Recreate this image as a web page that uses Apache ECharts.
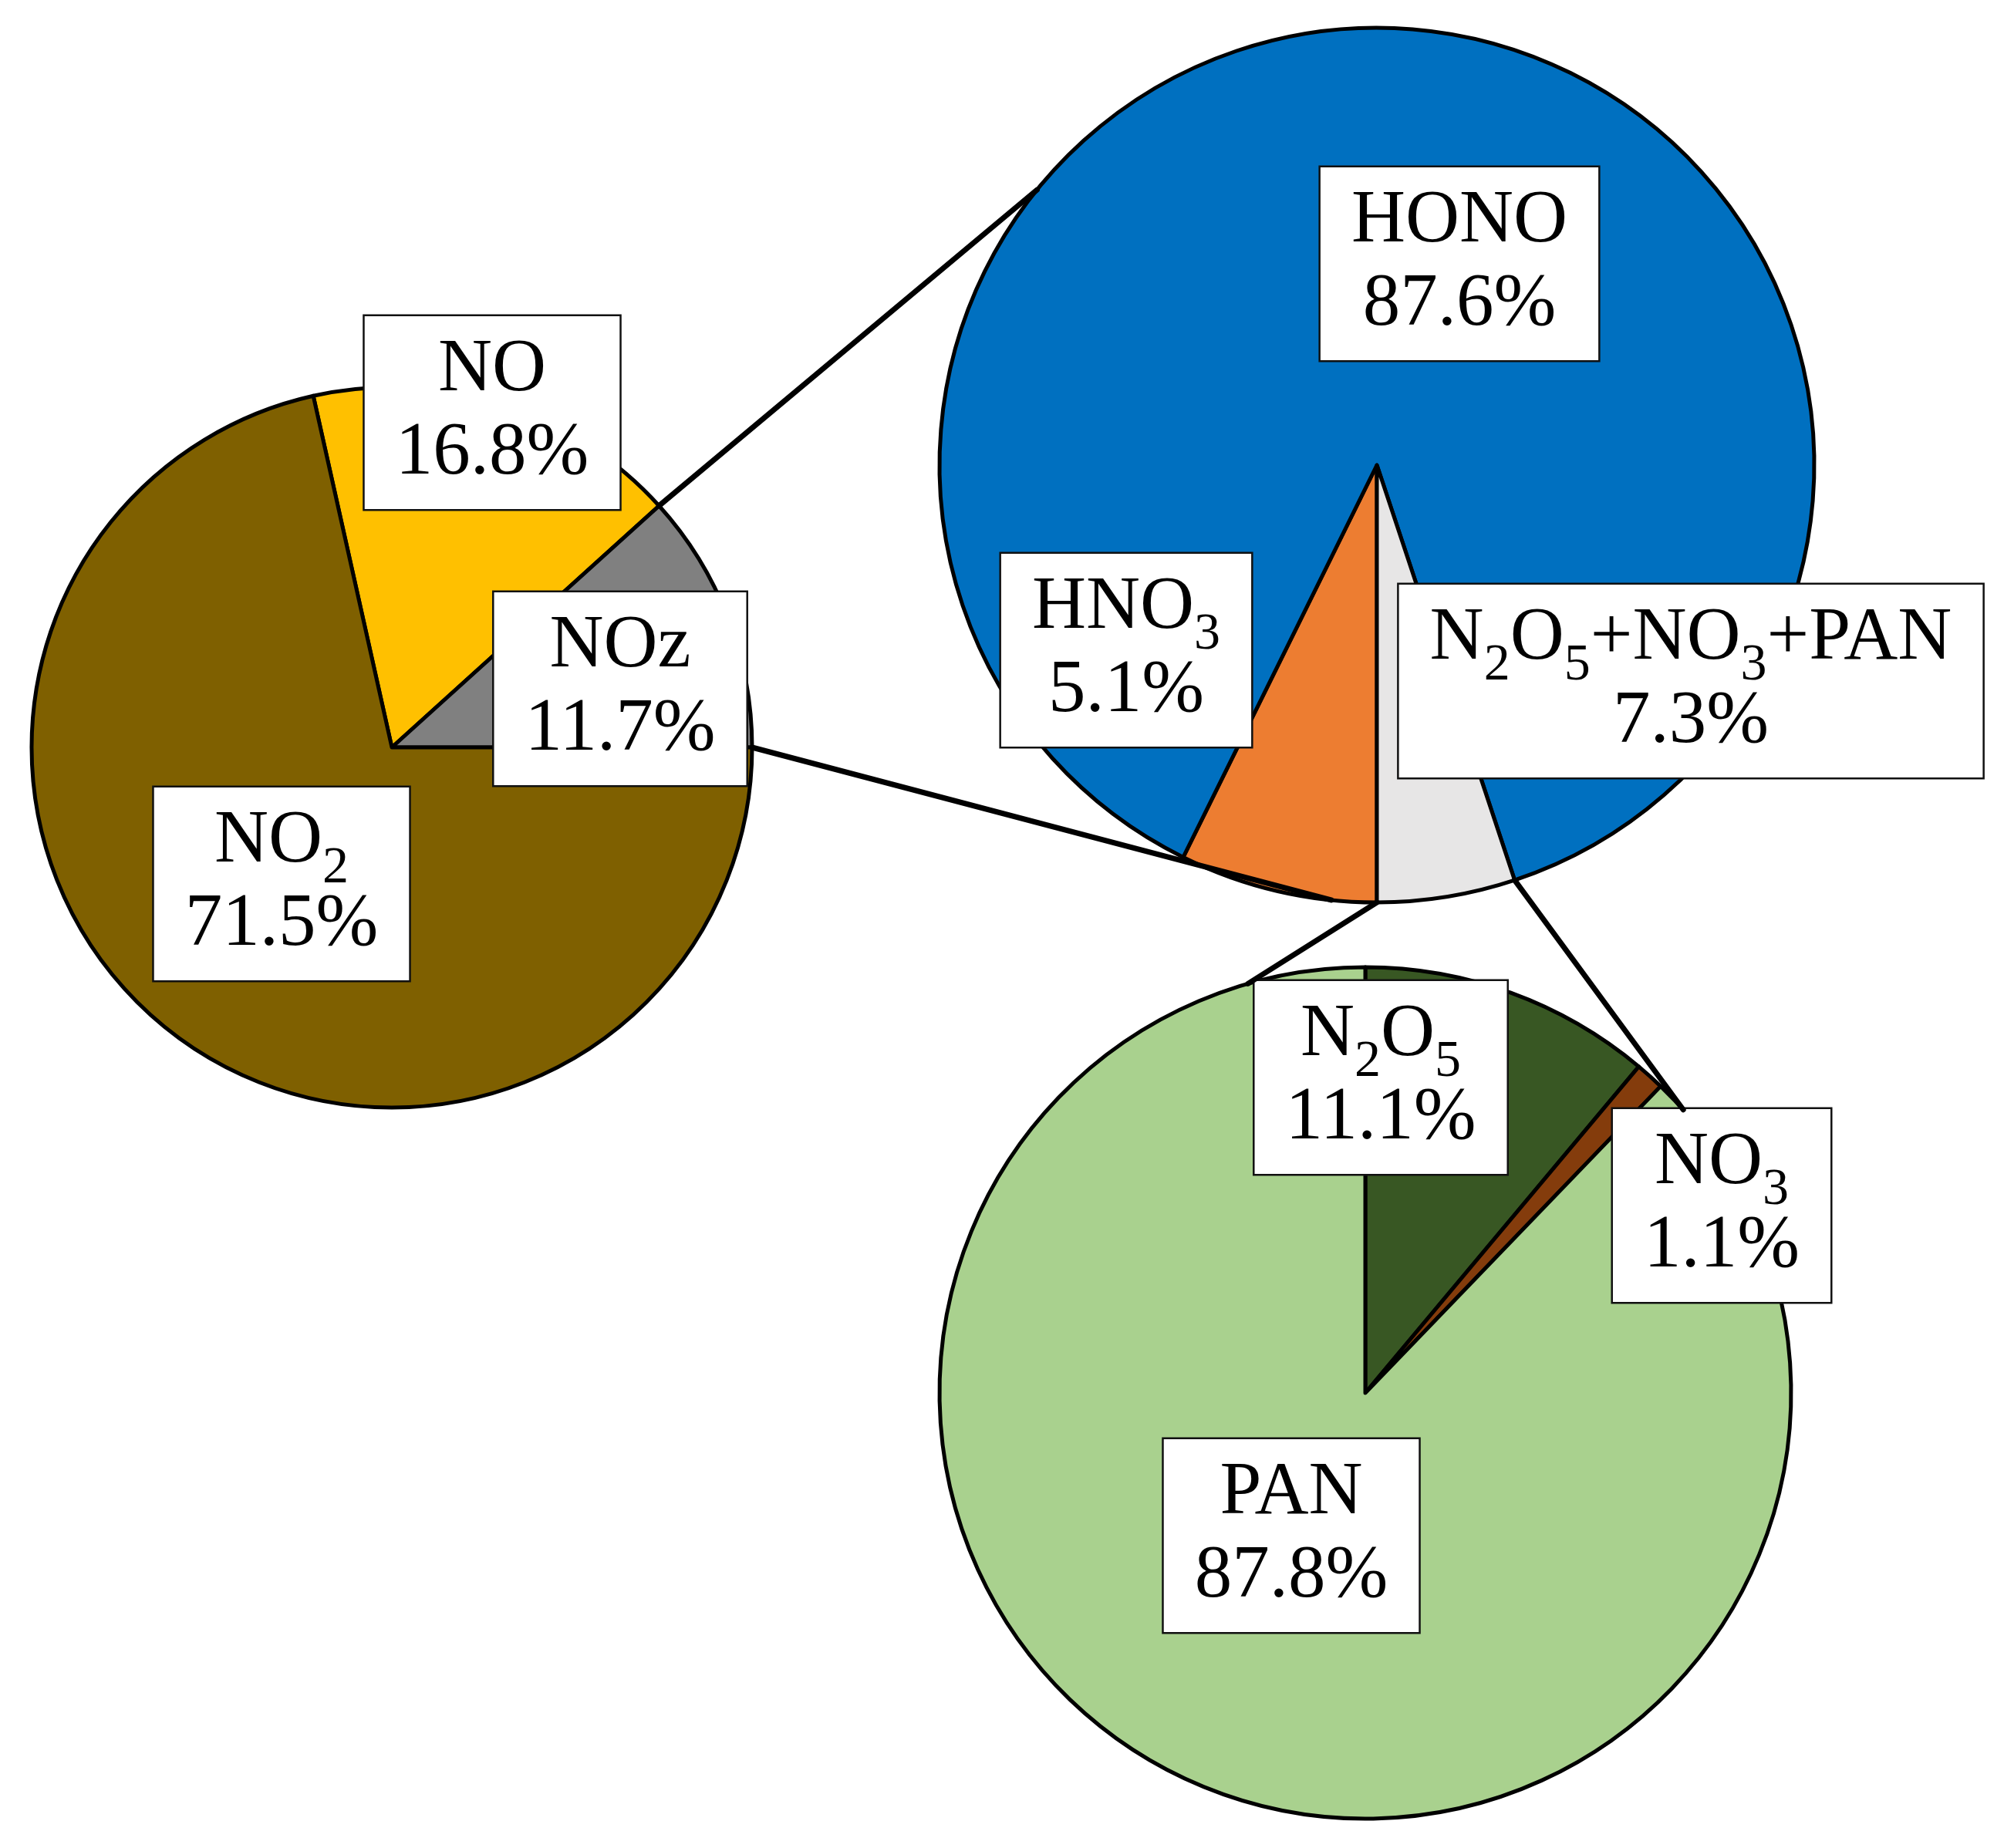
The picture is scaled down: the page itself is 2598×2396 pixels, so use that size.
<!DOCTYPE html>
<html>
<head>
<meta charset="utf-8">
<title>NOy partitioning</title>
<script src="https://cdn.jsdelivr.net/npm/echarts@6/dist/echarts.min.js"></script>
<style>
  html, body { margin: 0; padding: 0; background: #fff; }
  #chart { width: 2598px; height: 2396px; }
</style>
</head>
<body>
<div id="chart"></div>
<script>
// left pie: NO / NOz / NO2
const noyNames = ["NO", "NOz", "NO2"];
const noyValues = [16.8, 11.7, 71.5];

// top pie: split of NOz
// (the figure draws the HNO3 wedge with the larger angle, so slice sizes follow the drawing
//  and the printed percentages are kept as they appear on the boxes)
const nozNames = ["HNO3", "HONO", "N2O5+NO3+PAN"];
const nozValues = [7.3, 87.6, 5.1];
const nozLabels = ["5.1%", "87.6%", "7.3%"];

// bottom pie: split of N2O5+NO3+PAN
const restNames = ["N2O5", "NO3", "PAN"];
const restValues = [11.1, 1.1, 87.8];

const chart = echarts.init(document.getElementById("chart"));

// pie geometry (px)
const leftPie = { cx: 508, cy: 969, r: 467, start: (noyValues[0] + noyValues[1]) * 3.6 };
const topPie = { cx: 1785, cy: 603, r: 567, start: 270 };
const bottomPie = { cx: 1770, cy: 1806, r: 552, start: 90 };

// point on a pie rim, angle in degrees counter-clockwise from 3 o'clock
function rim(p, deg) {
  const a = deg * Math.PI / 180;
  return [p.cx + p.r * Math.cos(a), p.cy - p.r * Math.sin(a)];
}

// "N2O5" -> rich text with subscripts
function richName(name) {
  return ("{t|" + name.replace(/(\d)/g, "}{s|$1}{t|") + "}").replace(/\{t\|\}/g, "");
}

const labelStyle = {
  show: true,
  position: "inside",
  color: "#000",
  fontFamily: "Liberation Serif",
  backgroundColor: "#fff",
  borderColor: "#111",
  borderWidth: 2.5,
  padding: [17, 40, 17, 40],
  lineHeight: 108,
  rich: {
    t: { fontSize: 97, lineHeight: 108, fontFamily: "Liberation Serif", color: "#000" },
    // small token box pinned to the line bottom drops the digit below the baseline
    s: { fontSize: 68, height: 40, verticalAlign: "bottom", fontFamily: "Liberation Serif", color: "#000" }
  }
};

function makePie(p, names, values, colors, offsets, printed) {
  return {
    type: "pie",
    center: [p.cx, p.cy],
    radius: p.r,
    startAngle: p.start,
    clockwise: true,
    avoidLabelOverlap: false,
    silent: true,
    emphasis: { disabled: true },
    itemStyle: { borderColor: "#000", borderWidth: 5 },
    label: Object.assign({}, labelStyle, {
      formatter: function (d) {
        const pct = printed ? printed[d.dataIndex] : d.value.toFixed(1) + "%";
        return richName(d.name) + "\n{t|" + pct + "}";
      }
    }),
    labelLine: { show: false },
    labelLayout: function (d) {
      const o = offsets[d.dataIndex];
      return { x: p.cx + o[0], y: p.cy + o[1], align: "center", verticalAlign: "middle" };
    },
    data: names.map(function (n, i) {
      return { name: n, value: values[i], itemStyle: { color: colors[i] } };
    })
  };
}

// connector lines between the pies
const nozEdge = leftPie.start - noyValues[0] * 3.6;          // NO / NOz boundary
const grayEdge = 270 + nozValues[2] * 3.6;                    // HONO / N2O5+NO3+PAN boundary
const links = [
  [rim(leftPie, nozEdge), rim(topPie, 141)],
  [rim(leftPie, 0), rim(topPie, 264)],
  [rim(topPie, 270), rim(bottomPie, 106)],
  [rim(topPie, grayEdge), rim(bottomPie, 41.7)]
];

const option = {
  backgroundColor: "#fff",
  animation: false,
  series: [
    makePie(leftPie, noyNames, noyValues, ["#FFC000", "#808080", "#7F6000"],
      [[130, -434], [296, -76], [-143, 177]]),
    makePie(topPie, nozNames, nozValues, ["#ED7D31", "#0070C0", "#E7E6E6"],
      [[-325, 240], [107, -261], [407, 280]], nozLabels),
    makePie(bottomPie, restNames, restValues, ["#385723", "#843C0C", "#A9D18E"],
      [[20, -409], [462, -243], [-96, 185]])
  ],
  graphic: links.map(function (l) {
    return {
      type: "line",
      z: 3,
      silent: true,
      shape: { x1: l[0][0], y1: l[0][1], x2: l[1][0], y2: l[1][1] },
      style: { stroke: "#000", lineWidth: 7, lineCap: "round" }
    };
  })
};

chart.setOption(option);

window.addEventListener("resize", function () {
  chart.resize();
});
</script>
</body>
</html>
